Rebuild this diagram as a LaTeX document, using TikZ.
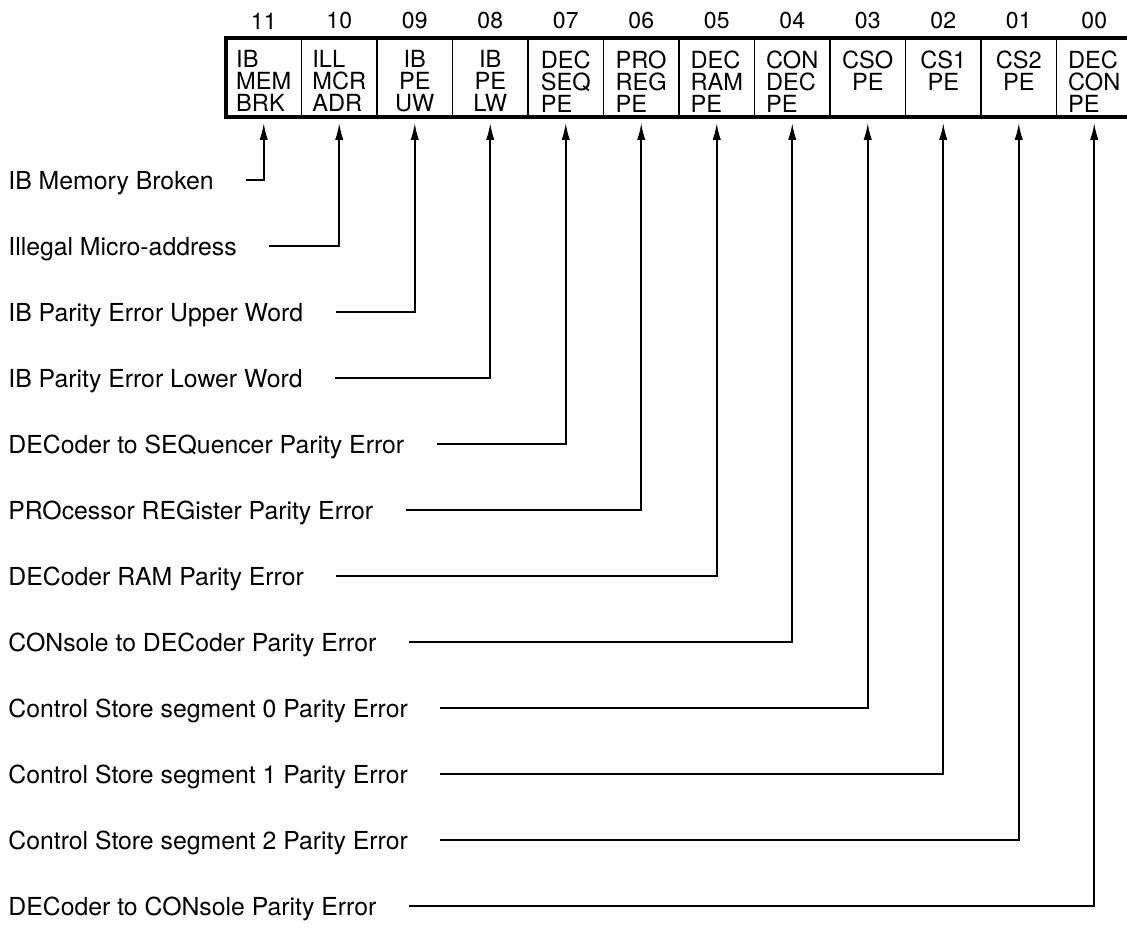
\documentclass[tikz,border=0pt]{standalone}
\usepackage{fontspec}
\setmainfont{TeX Gyre Heros}
\usetikzlibrary{arrows.meta, positioning, calc}

\begin{document}
\begin{tikzpicture}[
    x=0.5pt, y=-0.5pt,
    cell/.style={
        draw=black,
        line width=0.8pt,
        minimum width=37.75pt,
        minimum height=39.5pt,
        inner sep=0pt,
        outer sep=0pt
    },
    celltext/.style={anchor=north, inner sep=0pt, font=\fontsize{11.8}{11}\selectfont},
    bitno/.style={inner sep=0pt, font=\fontsize{11.5}{12}\selectfont},
    lbl/.style={anchor=west, inner sep=0pt, text depth=0pt, font=\fontsize{12.4}{14}\selectfont},
    frame/.style={draw=black, line width=1.8pt},
    arrow/.style={-{Latex[length=8.5pt,width=4.2pt]}, line width=0.9pt, shorten >=3pt}
]
\useasboundingbox (0,0) rectangle (1127,930);

% register cells, bit numbers above
\foreach \b/\t/\a [count=\i from 0] in {
    11/{IB\\MEM\\BRK}/left, 10/{ILL\\MCR\\ADR}/left, 09/{IB\\PE\\UW}/center, 08/{IB\\PE\\LW}/center,
    07/{DEC\\SEQ\\PE}/left, 06/{PRO\\REG\\PE}/left, 05/{DEC\\RAM\\PE}/left, 04/{CON\\DEC\\PE}/left,
    03/{CSO\\PE}/center, 02/{CS1\\PE}/center, 01/{CS2\\PE}/center, 00/{DEC\\CON\\PE}/left}
{
    \node[cell] (c\b) at ({263.75+75.5*\i}, 77.5) {};
    \node[celltext, align=\a] (t\b) at ([yshift=-6pt]c\b.north) {\t};
    \node[bitno] (n\b) at ([yshift=8.5pt]c\b.north) {\b};
}
\draw[frame] (c11.north west) rectangle (c00.south east);

% error descriptions
\node[lbl] (l11) at (8,180) {IB Memory Broken};
\node[lbl] (l10) at (8,246) {Illegal Micro-address};
\node[lbl] (l09) at (8,312) {IB Parity Error Upper Word};
\node[lbl] (l08) at (8,378) {IB Parity Error Lower Word};
\node[lbl] (l07) at (8,444) {DECoder to SEQuencer Parity Error};
\node[lbl] (l06) at (8,510) {PROcessor REGister Parity Error};
\node[lbl] (l05) at (8,576) {DECoder RAM Parity Error};
\node[lbl] (l04) at (8,642) {CONsole to DECoder Parity Error};
\node[lbl] (l03) at (8,708) {Control Store segment 0 Parity Error};
\node[lbl] (l02) at (8,774) {Control Store segment 1 Parity Error};
\node[lbl] (l01) at (8,840) {Control Store segment 2 Parity Error};
\node[lbl] (l00) at (8,906) {DECoder to CONsole Parity Error};

\foreach \b in {11,10,09,08,07,06,05,04,03,02,01,00}
    \draw[arrow] ([xshift=16pt]l\b.east) -| (c\b.south);

\end{tikzpicture}
\end{document}
